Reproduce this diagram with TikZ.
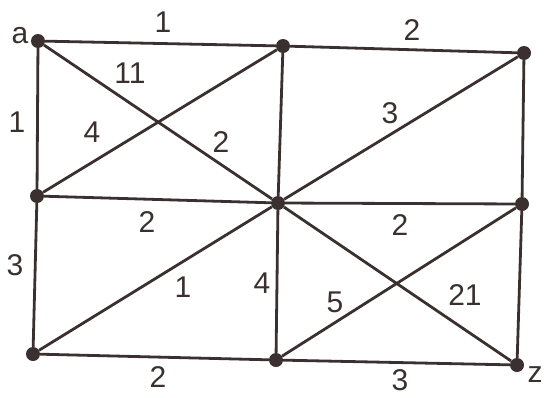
\documentclass[tikz,border=0pt]{standalone}
\usepackage{fontspec}
\setmainfont{Liberation Sans}
\definecolor{ink}{HTML}{3A3030}
\begin{document}
\begin{tikzpicture}[x=1pt,y=-1pt,
  vtx/.style={circle,fill=ink,inner sep=0pt,minimum size=14pt},
  edge/.style={draw=ink,line width=2.8pt},
  lbl/.style={text=ink,font=\fontsize{30}{30}\selectfont,inner sep=0pt}]
\useasboundingbox (0,0) rectangle (544,397);
\node[vtx] (a) at (38,41) {};
\node[vtx] (b) at (283,46) {};
\node[vtx] (c) at (524,53) {};
\node[vtx] (d) at (37,196) {};
\node[vtx] (e) at (278,203) {};
\node[vtx] (f) at (522,204) {};
\node[vtx] (g) at (33,354) {};
\node[vtx] (h) at (276,360) {};
\node[vtx] (z) at (517,365) {};
\draw[edge] (a)--(b) (b)--(c) (a)--(d) (a)--(e) (d)--(b) (b)--(e) (e)--(c)
  (c)--(f) (d)--(e) (e)--(f) (d)--(g) (g)--(e) (e)--(h) (g)--(h) (h)--(z)
  (h)--(f) (e)--(z) (f)--(z);
\node[lbl] (la) at (20,36) {a};
\node[lbl] (lz) at (535,375) {z};
\node[lbl] (l1) at (163,22) {1};
\node[lbl] (l2) at (412,30) {2};
\node[lbl] (l3) at (130,73) {11};
\node[lbl] (l4) at (17,122) {1};
\node[lbl] (l5) at (92,132) {4};
\node[lbl] (l6) at (221,142) {2};
\node[lbl] (l7) at (390,113) {3};
\node[lbl] (l8) at (147,222) {2};
\node[lbl] (l9) at (400,225) {2};
\node[lbl] (l10) at (15,265) {3};
\node[lbl] (l11) at (183,287) {1};
\node[lbl] (l12) at (262,283) {4};
\node[lbl] (l13) at (335,302) {5};
\node[lbl] (l14) at (465,295) {21};
\node[lbl] (l15) at (158,377) {2};
\node[lbl] (l16) at (400,380) {3};
\end{tikzpicture}
\end{document}
